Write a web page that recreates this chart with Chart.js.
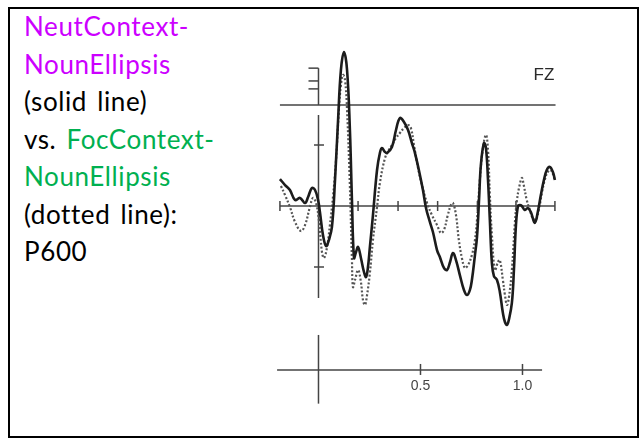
<!DOCTYPE html>
<html>
<head>
<meta charset="utf-8">
<script src="https://cdn.jsdelivr.net/npm/chart.js@4.4.1/dist/chart.umd.min.js"></script>
<style>
    body { margin: 0; background: #fff; }
    #page { position: relative; width: 643px; height: 442px; background: #fff; overflow: hidden; }
    #frame { position: absolute; left: 8px; top: 7px; width: 627px; height: 427px; border: 2px solid #000; }
    #caption { position: absolute; left: 24px; top: 8px; font-family: Lato, "Open Sans", sans-serif; font-size: 26px; letter-spacing: 0.6px; word-spacing: 3px; line-height: 37.5px; color: #000; }
    .neut { color: #cc00ff; }
    .foc { color: #00b050; }
    #erp { position: absolute; left: 270px; top: 40px; }
</style>
</head>
<body>
<div id="page">
    <div id="frame"></div>
    <div id="caption">
        <span class="neut">NeutContext-</span><br>
        <span class="neut">NounEllipsis</span><br>
        (solid line)<br>
        vs. <span class="foc">FocContext-</span><br>
        <span class="foc">NounEllipsis</span><br>
        (dotted line):<br>
        P600
    </div>
    <canvas id="erp" width="300" height="380"></canvas>
</div>
<script>
// time in ms, amplitude in microvolts (as drawn, up = positive)
const neutTimes = [-189, -164, -140, -115, -91, -66, -51, -32, -17, -2, 7, 22, 37, 51, 66, 81, 96, 110, 125, 140,
    154, 164, 174, 184, 194, 208, 223, 233, 242, 252, 267, 287, 301, 311, 326, 336, 360, 380, 399, 419,
    439, 458, 473, 492, 512, 527, 546, 561, 581, 595, 615, 630, 645, 659, 674, 693, 713, 728, 742, 752,
    767, 777, 787, 796, 811, 821, 831, 840, 850, 860, 875, 889, 904, 914, 924, 933, 948, 958, 968, 978,
    987, 997, 1011, 1026, 1041, 1060, 1075, 1090, 1105, 1119, 1134, 1149, 1159];
const neutValues = [2.21, 1.72, 1.31, 0.49, 0.66, 0.25, 0.74, 1.48, 1.31, 0.49, -0.49, -2.38, -3.28, -2.79, -1.72, 2.13, 7.05, 11.15, 12.62, 11.15,
    6.23, 0.49, -4.26, -3.77, -3.36, -4.26, -5.41, -5.82, -5.08, -3.36, -0.74, 2.95, 4.34, 4.75, 4.43, 4.34, 4.84, 6.23, 7.21, 6.89,
    6.23, 5.16, 4.34, 2.95, 1.31, -0.16, -1.31, -2.13, -3.61, -4.18, -5.08, -5.25, -4.59, -3.85, -4.43, -5.66, -6.89, -7.30, -6.89, -6.07,
    -4.02, -2.54, 0.49, 3.36, 5.16, 4.75, 2.13, -1.15, -4.67, -5.74, -6.07, -7.05, -8.77, -9.51, -9.75, -9.34, -7.95, -5.25, -1.56, 0.0,
    0.08, 0.0, -0.33, -0.16, -0.49, -1.39, -0.49, 0.90, 2.13, 2.95, 3.20, 2.79, 2.13];

const focTimes = [-184, -164, -140, -115, -86, -66, -42, -27, -12, 2, 17, 27, 42, 56, 71, 86, 100, 110, 120, 130,
    140, 154, 164, 169, 179, 194, 208, 218, 228, 238, 252, 267, 287, 301, 326, 345, 360, 380, 399, 419,
    439, 453, 468, 487, 507, 532, 556, 581, 600, 615, 634, 649, 659, 674, 688, 703, 718, 733, 752, 767,
    777, 791, 806, 821, 831, 840, 850, 865, 880, 889, 904, 914, 924, 933, 948, 963, 973, 983, 997, 1006,
    1021, 1036, 1050, 1065, 1080, 1095, 1109, 1124, 1139, 1159];
const focValues = [1.64, 0.90, -0.08, -1.31, -2.05, -1.56, -0.08, 0.66, 0.25, -1.15, -3.77, -4.26, -3.36, -1.56, 0.74, 3.77, 7.87, 9.92, 10.74, 10.33,
    7.87, 1.56, -4.43, -6.64, -6.07, -5.25, -6.23, -7.70, -8.11, -7.30, -5.49, -2.79, -0.08, 1.89, 3.93, 4.59, 5.0, 5.57, 5.98, 6.39,
    6.64, 6.39, 5.0, 3.20, 1.72, 0.25, -0.74, -1.56, -2.21, -1.97, -0.74, 0.08, 0.25, -0.74, -2.79, -4.26, -5.08, -4.84, -4.02, -2.79,
    -1.15, 2.13, 4.75, 5.82, 4.59, 0.90, -2.38, -5.25, -4.59, -4.43, -6.07, -7.30, -8.11, -7.54, -5.25, -1.31, 0.49, 1.48, 2.30, 1.72,
    0.49, -0.33, -0.98, -1.15, -0.33, 1.07, 2.13, 2.79, 2.95, 2.13];

// figure furniture
const baselineTicks = [-189, 194, 390, 584, 779, 968, 1159];
const ampTicks = [5, -5];
const calibTicks = [11.3, 10.25, 9.6];
const timeAxisTicks = [500, 1000];
const timeAxisLabels = ['0.5', '1.0'];
const electrode = 'FZ';

const furniture = {
    id: 'furniture',
    beforeDatasetsDraw(chart) {
        const ctx = chart.ctx;
        const xs = chart.scales.x;
        const ys = chart.scales.y;
        const X = v => xs.getPixelForValue(v);
        const Y = v => ys.getPixelForValue(v);
        const line = (x1, y1, x2, y2) => {
            ctx.beginPath();
            ctx.moveTo(x1, y1);
            ctx.lineTo(x2, y2);
            ctx.stroke();
        };
        ctx.save();
        ctx.strokeStyle = '#444';
        ctx.lineWidth = 1.5;

        // top reference line and calibration bar
        line(X(-189), Y(8.28), X(1162), Y(8.28));
        line(X(0), Y(11.3), X(0), Y(8.28));
        calibTicks.forEach(v => line(X(-49), Y(v), X(0), Y(v)));

        // amplitude axis
        line(X(0), Y(7.46), X(0), Y(-7.54));
        ampTicks.forEach(v => line(X(-22), Y(v), X(27), Y(v)));

        // zero line with ticks
        line(X(-189), Y(0), X(1159), Y(0));
        baselineTicks.forEach(t => line(X(t), Y(0) - 5, X(t), Y(0) + 5));

        // separate time axis below
        const ta = -13.44;
        line(X(-203), Y(ta), X(1096), Y(ta));
        line(X(0), Y(-10.57), X(0), Y(-16.2));
        ctx.fillStyle = '#444';
        ctx.font = '14px "Liberation Sans", Arial, sans-serif';
        ctx.textAlign = 'center';
        ctx.textBaseline = 'top';
        timeAxisTicks.forEach((t, i) => {
            line(X(t), Y(ta) - 6, X(t), Y(ta) + 5);
            ctx.fillText(timeAxisLabels[i], X(t), Y(ta) + 9);
        });

        // electrode label
        ctx.fillStyle = '#2a2a2a';
        ctx.font = '17px "Liberation Sans", Arial, sans-serif';
        ctx.textBaseline = 'middle';
        ctx.fillText(electrode, X(1105), Y(10.74));
        ctx.restore();
    }
};

const toPoints = (times, values) => times.map((t, i) => ({ x: t, y: values[i] }));

new Chart(document.getElementById('erp').getContext('2d'), {
    type: 'line',
    data: {
        datasets: [
            {
                label: 'NeutContext-NounEllipsis',
                data: toPoints(neutTimes, neutValues),
                borderColor: '#1c1c1c',
                borderWidth: 2.6,
                pointRadius: 0,
                tension: 0.4,
                fill: false
            },
            {
                label: 'FocContext-NounEllipsis',
                data: toPoints(focTimes, focValues),
                borderColor: '#555',
                borderWidth: 2.2,
                borderDash: [2, 2],
                pointRadius: 0,
                tension: 0.4,
                fill: false
            }
        ]
    },
    options: {
        responsive: false,
        animation: false,
        layout: { padding: 0 },
        plugins: {
            legend: { display: false },
            tooltip: { enabled: false }
        },
        scales: {
            x: { type: 'linear', min: -237.7, max: 1232.9, display: false },
            y: { min: -17.541, max: 13.607, display: false }
        }
    },
    plugins: [furniture]
});
</script>
</body>
</html>
